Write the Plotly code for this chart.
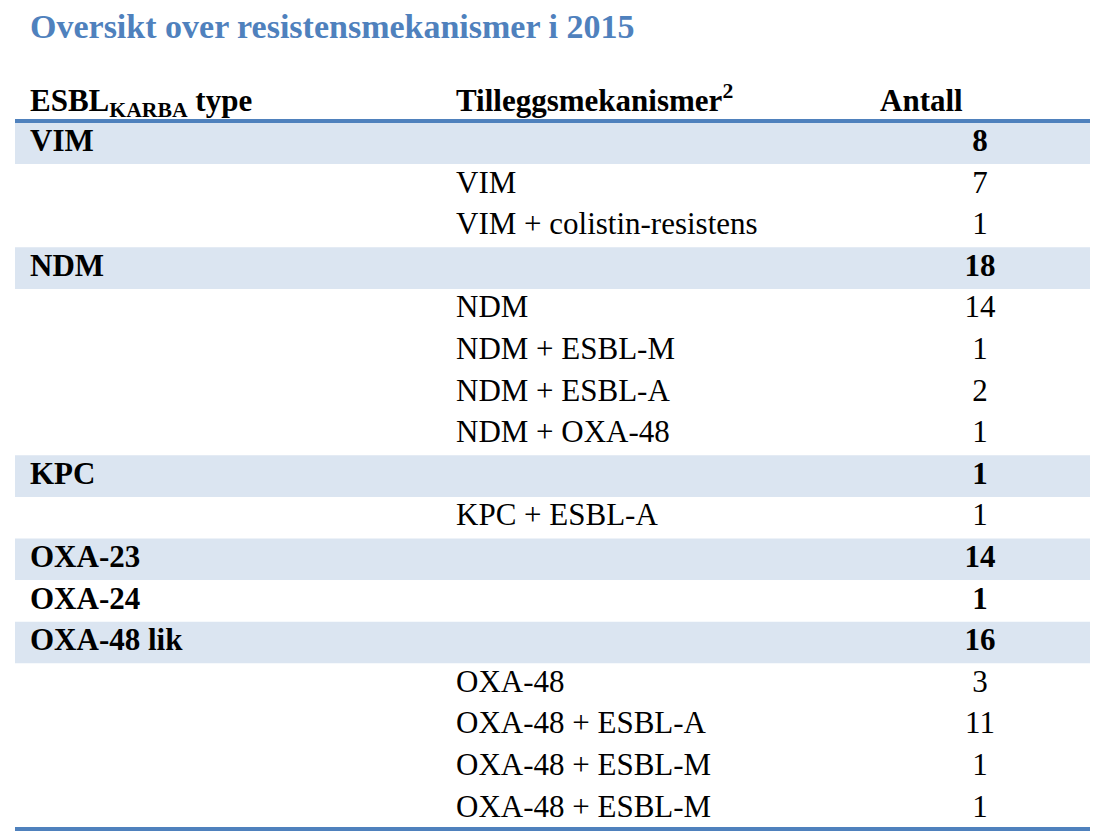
import plotly.graph_objects as go

title = "Oversikt over resistensmekanismer i 2015"
headers = ["ESBL<sub>KARBA</sub> type", "Tilleggsmekanismer<sup>2</sup>", "Antall"]

types = ["VIM", "", "", "NDM", "", "", "", "", "KPC", "", "OXA-23", "OXA-24",
         "OXA-48 lik", "", "", "", ""]
mechanisms = ["", "VIM", "VIM + colistin-resistens", "", "NDM", "NDM + ESBL-M",
              "NDM + ESBL-A", "NDM + OXA-48", "", "KPC + ESBL-A", "", "",
              "", "OXA-48", "OXA-48 + ESBL-A", "OXA-48 + ESBL-M", "OXA-48 + ESBL-M"]
counts = [8, 7, 1, 18, 14, 1, 2, 1, 1, 1, 14, 1, 16, 3, 11, 1, 1]
shaded = [True, False, False, True, False, False, False, False, True, False,
          True, False, True, False, False, False, False]

BLUE = "#4F81BD"
BAND = "#DBE5F1"
FONT = "Liberation Serif"

n = len(types)
top = 122.5
rh = 41.6
centers = [top + rh * (i + 0.5) for i in range(n)]
bold = [t != "" for t in types]

x_left, x_right = 15, 1090
x_c1, x_c2, x_c3 = 30, 456, 980

fig = go.Figure()

shapes = []
for i in range(n):
    if shaded[i]:
        shapes.append(dict(type="rect", xref="x", yref="y", x0=x_left, x1=x_right,
                           y0=top + rh * i, y1=top + rh * (i + 1),
                           fillcolor=BAND, line=dict(width=0), layer="below"))
shapes.append(dict(type="line", xref="x", yref="y", x0=x_left, x1=x_right,
                   y0=121, y1=121, line=dict(color=BLUE, width=4)))
shapes.append(dict(type="line", xref="x", yref="y", x0=x_left, x1=x_right,
                   y0=829, y1=829, line=dict(color=BLUE, width=4)))

fs = 31
common = dict(mode="text", hoverinfo="skip", showlegend=False, cliponaxis=False)
# Column 1
fig.add_trace(go.Scatter(
    x=[x_c1] * n, y=centers,
    text=[f"<b>{t}</b>" if t else "" for t in types],
    textposition="middle right",
    textfont=dict(family=FONT, size=fs, color="black"), **common))
# Column 2
fig.add_trace(go.Scatter(
    x=[x_c2] * n, y=centers,
    text=mechanisms, textposition="middle right",
    textfont=dict(family=FONT, size=fs, color="black"), **common))
# Column 3
fig.add_trace(go.Scatter(
    x=[x_c3] * n, y=centers,
    text=[f"<b>{c}</b>" if b else str(c) for c, b in zip(counts, bold)],
    textposition="middle center",
    textfont=dict(family=FONT, size=fs, color="black"), **common))
# Headers
fig.add_trace(go.Scatter(
    x=[x_c1, x_c2, 880], y=[103, 103, 103],
    text=[f"<b>{h}</b>" for h in headers], textposition="middle right",
    textfont=dict(family=FONT, size=fs, color="black"), **common))
# Title
fig.add_trace(go.Scatter(
    x=[30], y=[29], text=[f"<b>{title}</b>"],
    textposition="middle right",
    textfont=dict(family=FONT, size=34, color=BLUE), **common))

# The page body has an 8px margin; map data units to screen pixels.
W, H, OFF = 1088, 823, 8
fig.update_layout(
    width=W, height=H,
    margin=dict(l=0, r=0, t=0, b=0),
    paper_bgcolor="white", plot_bgcolor="white",
    xaxis=dict(range=[OFF, OFF + W], visible=False, fixedrange=True),
    yaxis=dict(range=[OFF + H, OFF], visible=False, fixedrange=True),
    shapes=shapes,
)

fig.write_html("out.html")
